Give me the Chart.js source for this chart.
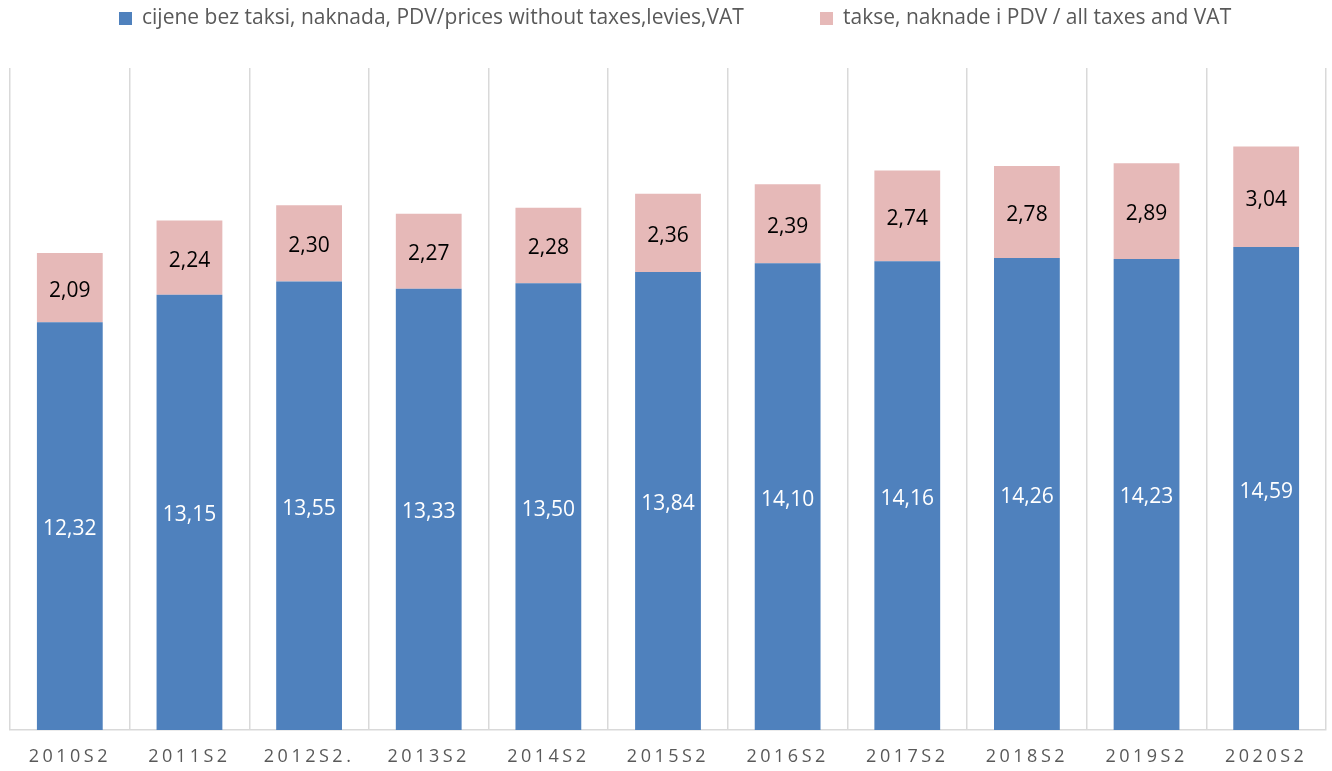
<!DOCTYPE html>
<html>
<head>
<meta charset="utf-8">
<script src="https://cdn.jsdelivr.net/npm/chart.js@4.4.1/dist/chart.umd.min.js"></script>
<style>
  html, body { margin: 0; padding: 0; background: #fff; }
  #wrap { width: 1332px; height: 771px; }
</style>
</head>
<body>
<div id="wrap"><canvas id="priceChart"></canvas></div>
<script>
"use strict";

// Data
const categories = ['2010S2', '2011S2', '2012S2.', '2013S2', '2014S2', '2015S2', '2016S2', '2017S2', '2018S2', '2019S2', '2020S2'];
const pricesNoTax = [12.32, 13.15, 13.55, 13.33, 13.50, 13.84, 14.10, 14.16, 14.26, 14.23, 14.59];
const taxesVat = [2.09, 2.24, 2.30, 2.27, 2.28, 2.36, 2.39, 2.74, 2.78, 2.89, 3.04];
const seriesNames = ['cijene bez taksi, naknada, PDV/prices without taxes,levies,VAT', 'takse, naknade i PDV / all taxes and VAT'];

const BLUE = '#4f81bd';
const PINK = '#e6b9b8';
const FONT = '"Open Sans", sans-serif';

const fmt = v => v.toFixed(2).replace('.', ',');

// Value labels inside the bar segments
const valueLabels = {
    id: 'valueLabels',
    afterDatasetsDraw(chart) {
        const ctx = chart.ctx;
        ctx.save();
        ctx.font = '21px ' + FONT;
        ctx.textAlign = 'center';
        ctx.textBaseline = 'middle';
        chart.data.datasets.forEach((ds, di) => {
            const meta = chart.getDatasetMeta(di);
            ctx.fillStyle = di === 0 ? '#ffffff' : '#000000';
            meta.data.forEach((bar, i) => {
                const mid = (bar.y + bar.base) / 2;
                ctx.fillText(fmt(ds.data[i]), bar.x, mid + 3);
            });
        });
        ctx.restore();
    }
};

// Spaced-out category labels under the axis + legend row at the top
const axisAndLegend = {
    id: 'axisAndLegend',
    afterDraw(chart) {
        const ctx = chart.ctx;
        const x = chart.scales.x;
        ctx.save();
        ctx.fillStyle = '#595959';
        ctx.font = '18px ' + FONT;
        ctx.letterSpacing = '3.5px';
        ctx.textAlign = 'center';
        ctx.textBaseline = 'middle';
        categories.forEach((c, i) => {
            ctx.fillText(c, x.getPixelForValue(i), 757);
        });
        ctx.letterSpacing = '0px';

        // legend
        ctx.font = '21px ' + FONT;
        ctx.textAlign = 'left';
        const items = [
            { color: BLUE, text: seriesNames[0], x: 119 },
            { color: PINK, text: seriesNames[1], x: 820 }
        ];
        items.forEach(it => {
            ctx.fillStyle = it.color;
            ctx.fillRect(it.x, 12, 13, 13);
            ctx.fillStyle = '#595959';
            ctx.fillText(it.text, it.x + 23, 18);
        });
        ctx.restore();
    }
};

new Chart(document.getElementById('priceChart'), {
    type: 'bar',
    data: {
        labels: categories,
        datasets: [
            { label: seriesNames[0], data: pricesNoTax, backgroundColor: BLUE },
            { label: seriesNames[1], data: taxesVat, backgroundColor: PINK }
        ]
    },
    options: {
        responsive: true,
        maintainAspectRatio: false,
        animation: false,
        layout: { padding: { left: 10, right: 6, top: 68, bottom: 41 } },
        datasets: { bar: { categoryPercentage: 1, barPercentage: 0.55 } },
        scales: {
            x: {
                stacked: true,
                grid: { offset: true, color: '#d9d9d9', lineWidth: 1.5, drawTicks: false },
                border: { color: '#d9d9d9', width: 1.5 },
                ticks: { display: false }
            },
            y: {
                stacked: true,
                display: false,
                min: 0,
                max: 20
            }
        },
        plugins: {
            legend: { display: false },
            tooltip: { enabled: false }
        }
    },
    plugins: [valueLabels, axisAndLegend]
});
</script>
</body>
</html>
